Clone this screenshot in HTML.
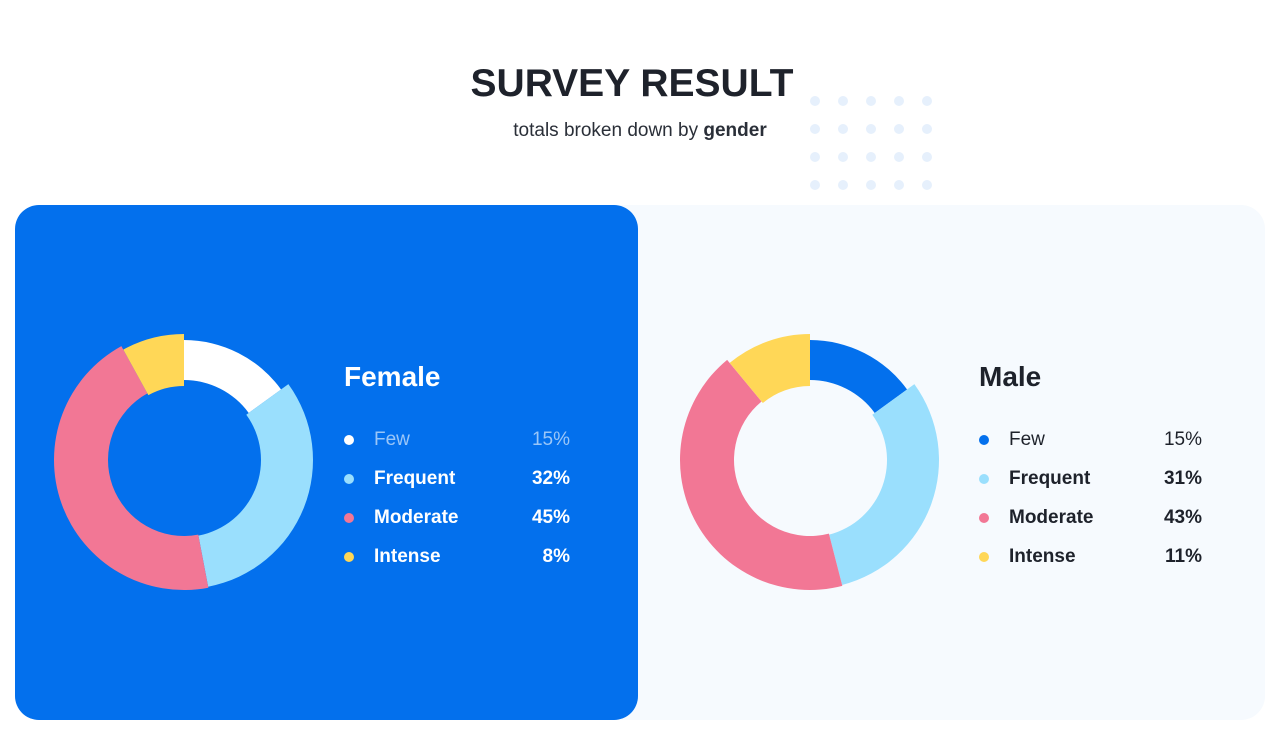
<!DOCTYPE html>
<html><head><meta charset="utf-8"><style>
body{margin:0;width:1280px;height:736px;background:#fff;font-family:"Liberation Sans",sans-serif;position:relative;overflow:hidden}
.abs{position:absolute}
h1{position:absolute;left:0;width:1264px;top:62px;margin:0;text-align:center;font-size:39px;font-weight:900;color:#1e222b;letter-spacing:0px}
.sub{position:absolute;left:0;width:1280px;top:120px;text-align:center;font-size:19px;color:#2a2f38;font-weight:300}
.card1{left:15px;top:205px;width:623px;height:515px;background:#0370ed;border-radius:24px}
.card2{left:600px;top:205px;width:665px;height:515px;background:#f6fafe;border-radius:24px}
.title{font-size:28px;font-weight:900}
.row{position:absolute;height:24px;font-size:19px;font-weight:700}
.row .dot{position:absolute;left:0;top:6px;width:10px;height:10px;border-radius:50%}
.row .lbl{position:absolute;left:30px;top:0}
.row .val{position:absolute;right:0;top:0}
</style></head><body>
<h1>SURVEY RESULT</h1>
<div class="sub">totals broken down by <b style="font-weight:700">gender</b></div>
<svg class="abs" style="left:800px;top:90px" width="140" height="110" id="dots"></svg>
<div class="abs card2"></div>
<div class="abs card1"></div>
<svg class="abs" style="left:0;top:0" width="1280" height="736" id="charts"></svg>
<div class="abs title" style="left:344px;top:361px;color:#fff">Female</div>
<div class="abs title" style="left:979px;top:361px;color:#1e222b">Male</div>
<div id="legends"></div>
<script>
const categories=["Few","Frequent","Moderate","Intense"];
const femaleValues=[15,32,45,8];
const maleValues=[15,31,43,11];
const ns="http://www.w3.org/2000/svg";
const dots=document.getElementById('dots');
for(let r=0;r<4;r++)for(let c=0;c<5;c++){const e=document.createElementNS(ns,'circle');e.setAttribute('cx',15+c*28);e.setAttribute('cy',11+r*28);e.setAttribute('r',5);e.setAttribute('fill','#e6f0fc');


dots.appendChild(e);}
const svg=document.getElementById('charts');
const outerR=[120,129,130,126],innerR=[80,77,76,74];
function arc(cx,cy,ro,ri,a0,a1){const p=(r,a)=>[cx+r*Math.sin(a),cy-r*Math.cos(a)];const l=(a1-a0)>Math.PI?1:0;
const [x0,y0]=p(ro,a0),[x1,y1]=p(ro,a1),[x2,y2]=p(ri,a1),[x3,y3]=p(ri,a0);
return `M${x0},${y0}A${ro},${ro} 0 ${l} 1 ${x1},${y1}L${x2},${y2}A${ri},${ri} 0 ${l} 0 ${x3},${y3}Z`;}
function donut(cx,cy,vals,colors,name){const tot=vals.reduce((a,b)=>a+b,0);let a=0;
vals.forEach((v,i)=>{const a1=a+v/tot*2*Math.PI;const p=document.createElementNS(ns,'path');p.setAttribute('d',arc(cx,cy,outerR[i],innerR[i],a,a1));p.setAttribute('fill',colors[i]);


svg.appendChild(p);a=a1;});}
donut(184,460,femaleValues,['#ffffff','#9adffd','#f27795','#ffd757'],'female');
donut(810,460,maleValues,['#0370ed','#9adffd','#f27795','#ffd757'],'male');
const lg=document.getElementById('legends');
function legend(x,w,vals,colors,text,fewColor,name){vals.forEach((v,i)=>{const d=document.createElement('div');d.className='row';d.style.left=x+'px';d.style.width=w+'px';d.style.top=(429+i*39)+'px';d.style.color=i==0?fewColor:text;if(i==0)d.style.fontWeight='300';
d.innerHTML=`<span class="dot" style="background:${colors[i]}"></span><span class="lbl">${categories[i]}</span><span class="val">${v}%</span>`;


lg.appendChild(d);});}
legend(344,226,femaleValues,['#ffffff','#9adffd','#f27795','#ffd757'],'#fff','rgba(255,255,255,0.6)','female');
legend(979,223,maleValues,['#0370ed','#9adffd','#f27795','#ffd757'],'#1e222b','#1e222b','male');
</script>
</body></html>
